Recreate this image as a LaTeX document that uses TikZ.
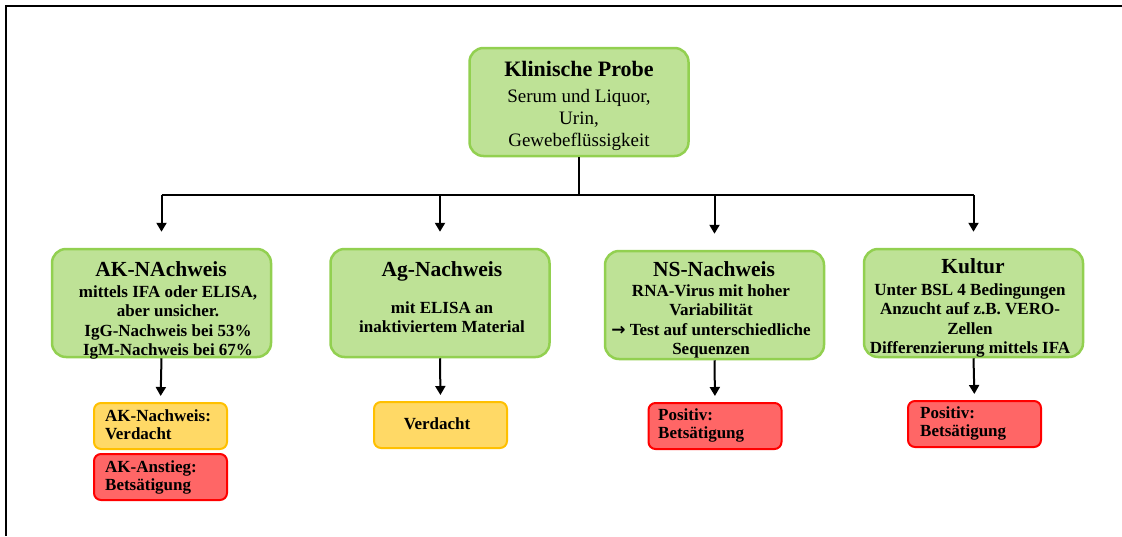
\documentclass[tikz,border=0pt]{standalone}
\usepackage{fontspec}
\setmainfont{Liberation Serif}
\newfontfamily\arrowfont{DejaVu Sans}
\usetikzlibrary{arrows.meta}
\definecolor{gfill}{RGB}{190,226,150}
\definecolor{gdraw}{RGB}{146,208,80}
\definecolor{yfill}{RGB}{255,217,102}
\definecolor{ydraw}{RGB}{255,192,0}
\definecolor{rfill}{RGB}{255,102,102}
\definecolor{rdraw}{RGB}{255,0,0}
\tikzset{
  bigbox/.style={draw=gdraw, fill=gfill, line width=2.5pt, rounded corners=14pt,
    minimum width=219pt, minimum height=108pt, inner sep=0pt},
  ybox/.style={draw=ydraw, fill=yfill, line width=2pt, rounded corners=7pt,
    minimum width=133pt, minimum height=46pt, inner sep=0pt},
  rbox/.style={draw=rdraw, fill=rfill, line width=2pt, rounded corners=7pt,
    minimum width=133pt, minimum height=46pt, inner sep=0pt},
  ttl/.style={font=\bfseries\fontsize{21.5}{24}\selectfont, anchor=base, inner sep=0pt},
  body/.style={font=\bfseries\fontsize{17}{19.5}\selectfont, align=center, anchor=north, inner sep=0pt},
  topbody/.style={font=\fontsize{19}{22}\selectfont, align=center, anchor=north, inner sep=0pt},
  small/.style={font=\bfseries\fontsize{17}{18.5}\selectfont, align=left, anchor=north west, inner sep=0pt},
  conn/.style={line width=2pt},
  arr/.style={line width=2pt, -{Triangle[width=10pt,length=9pt]}},
}
\begin{document}
\begin{tikzpicture}[x=1pt,y=-1pt]
\useasboundingbox (0,0) rectangle (1122,536);
\draw[line width=2.5pt] (1122,6) -- (6,6) -- (6,536);

% top box
\node[bigbox] (top) at (579,102) {};
\node[ttl, font=\bfseries\fontsize{22}{24}\selectfont] (topt) at (579,76) {Klinische Probe};
\node[topbody] (topb) at (579,89) {Serum und Liquor,\\Urin,\\Gewebeflüssigkeit};

% level boxes
\node[bigbox] (b1) at (161.5,303) {};
\node[ttl] (b1t) at (161,276) {AK-NAchweis};
\node[body] (b1b) at (168,285.3) {mittels IFA oder ELISA,\\aber unsicher.\\IgG-Nachweis bei 53\%\\IgM-Nachweis bei 67\%};

\node[bigbox] (b2) at (440,303) {};
\node[ttl] (b2t) at (442,276) {Ag-Nachweis};
\node[body] (b2b) at (442,301.3) {mit ELISA an\\inaktiviertem Material};

\node[bigbox] (b3) at (714.5,305) {};
\node[ttl] (b3t) at (714,276) {NS-Nachweis};
\node[body] (b3b) at (711,284.3) {RNA-Virus mit hoher\\Variabilität\\{\arrowfont\bfseries →} Test auf unterschiedliche\\Sequenzen};

\node[bigbox] (b4) at (973.5,303) {};
\node[ttl] (b4t) at (973,273) {Kultur};
\node[body] (b4b) at (970,283.3) {Unter BSL 4 Bedingungen\\Anzucht auf z.B. VERO-\\Zellen\\Differenzierung mittels IFA};

% result boxes
\node[ybox] (r1a) at (160.5,426) {};
\node[small] (r1at) at (105,409.3) {AK-Nachweis:\\Verdacht};
\node[rbox] (r1b) at (160.5,477) {};
\node[small] (r1bt) at (105,460.3) {AK-Anstieg:\\Betsätigung};

\node[ybox] (r2) at (440.5,425) {};
\node[font=\bfseries\fontsize{17}{18.5}\selectfont, anchor=base, inner sep=0pt] (r2t) at (437,429) {Verdacht};

\node[rbox] (r3) at (715,426) {};
\node[small] (r3t) at (658,408.3) {Positiv:\\Betsätigung};

\node[rbox] (r4) at (974.5,424) {};
\node[small] (r4t) at (920,406.3) {Positiv:\\Betsätigung};

% connectors
\coordinate (hub) at (579,195);
\draw[conn] (top.south) -- (hub);
\draw[conn] (b1.north |- hub) -- (b4.north |- hub);
\foreach \b in {b1,b2,b3,b4}{
  \draw[arr, shorten >=16pt] (\b.north |- hub) -- (\b.north);
}
\draw[arr, shorten >=6pt] (b1.south) -- (r1a.north);
\draw[arr, shorten >=6pt] (b2.south) -- (r2.north);
\draw[arr, shorten >=6pt] (b3.south) -- (r3.north);
\draw[arr, shorten >=6pt] (b4.south) -- (r4.north);
\end{tikzpicture}
\end{document}
